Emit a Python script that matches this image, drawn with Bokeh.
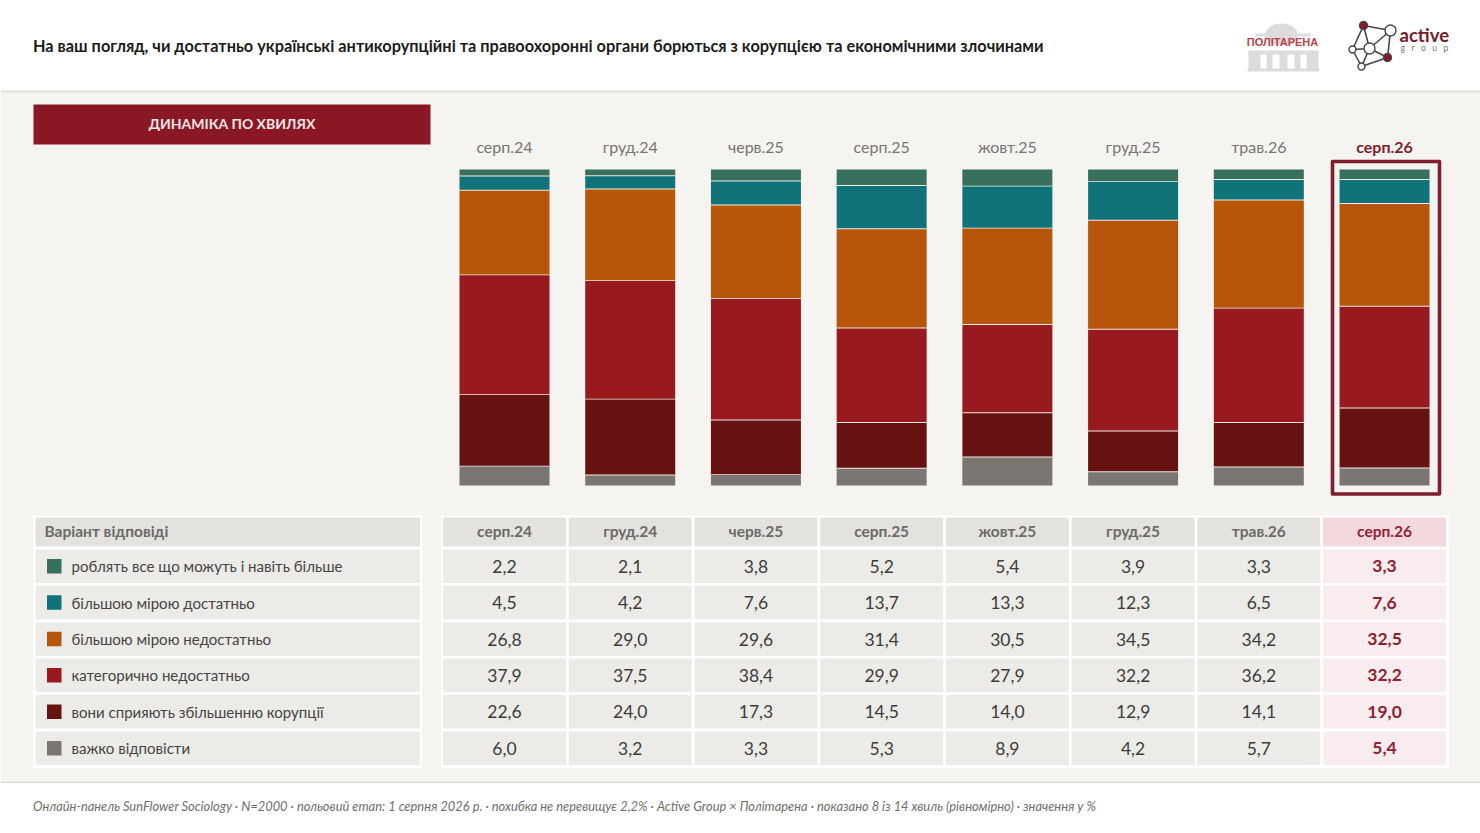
from bokeh.plotting import figure
from bokeh.models import Range1d, ColumnDataSource
from bokeh.core.properties import value
from bokeh.embed import file_html
from bokeh.resources import INLINE

TITLE = "На ваш погляд, чи достатньо українські антикорупційні та правоохоронні органи борються з корупцією та економічними злочинами"
BANNER = "ДИНАМІКА ПО ХВИЛЯХ"
HEAD = "Варіант відповіді"
FOOT = "Онлайн-панель SunFlower Sociology · N=2000 · польовий етап: 1 серпня 2026 р. · похибка не перевищує 2,2% · Active Group × Політарена · показано 8 із 14 хвиль (рівномірно) · значення у %"

waves = ["серп.24", "груд.24", "черв.25", "серп.25", "жовт.25", "груд.25", "трав.26", "серп.26"]
answers = ["роблять все що можуть і навіть більше", "більшою мірою достатньо", "більшою мірою недостатньо",
           "категорично недостатньо", "вони сприяють збільшенню корупції", "важко відповісти"]
colors = ["#37705c", "#0f7379", "#b5560a", "#981a1e", "#661210", "#7b7672"]
s_do_all = [2.2, 2.1, 3.8, 5.2, 5.4, 3.9, 3.3, 3.3]
s_enough = [4.5, 4.2, 7.6, 13.7, 13.3, 12.3, 6.5, 7.6]
s_not_enough = [26.8, 29.0, 29.6, 31.4, 30.5, 34.5, 34.2, 32.5]
s_cat_not = [37.9, 37.5, 38.4, 29.9, 27.9, 32.2, 36.2, 32.2]
s_promote = [22.6, 24.0, 17.3, 14.5, 14.0, 12.9, 14.1, 19.0]
s_hard = [6.0, 3.2, 3.3, 5.3, 8.9, 4.2, 5.7, 5.4]
series = [s_do_all, s_enough, s_not_enough, s_cat_not, s_promote, s_hard]

W, H = 1480, 833
X0, X1, Y0, Y1 = 0, 1480, 0, 833
BAR_BASE, PX_PER_PCT = 485, 3.16
COL0, COL_STEP = 504, 125.72
TEXT_DY = -1.6
LATO = value("Lato")

p = figure(width=W, height=H, output_backend="svg", toolbar_location=None,
           x_range=Range1d(X0, X1), y_range=Range1d(Y1, Y0), x_axis_type=None, y_axis_type=None,
           min_border=0, outline_line_color=None, background_fill_color="white", border_fill_color="white")
p.grid.visible = False
p.extra_x_ranges["wave"] = Range1d((X0 - COL0) / COL_STEP, (X1 - COL0) / COL_STEP)
p.extra_y_ranges["pct"] = Range1d((BAR_BASE - Y1) / PX_PER_PCT, (BAR_BASE - Y0) / PX_PER_PCT)


def box(x0, x1, y0, y1, fill, **kw):
    p.quad(left=[x0], right=[x1], top=[y0], bottom=[y1], fill_color=fill, line_color=None, **kw)


def label(x, y, s, size, color, align="left", style="normal", font=LATO, **kw):
    p.text(x=[x], y=[y + TEXT_DY], text=[s], text_font=font, text_font_size=f"{size}px", text_color=color,
           text_align=align, text_baseline="middle", text_font_style=style, **kw)


# page bands
box(X0, X1, 91, 782, "#f5f4f1")
box(X0, X1, 90, 92, "#e2e1da")
box(X0, X1, 781, 782.5, "#dcdbd6")
label(32.5, 46.5, TITLE, 16.32, "#1c1c1c", style="bold")
box(33, 430, 104, 144, "#8a1824")
label(231.5, 124.5, BANNER, 14, "#f5e4e4", align="center", style="bold")
label(32.5, 807, FOOT, 12.87, "#6f6e6a", style="italic")

# stacked bars
idx = list(range(len(waves)))
remaining = [100.0] * len(waves)
half_bar = 45 / COL_STEP
for vals, col in zip(series, colors):
    tops = list(remaining)
    remaining = [round(t - v, 4) for t, v in zip(tops, vals)]
    src = ColumnDataSource(dict(x=idx, top=tops, bottom=remaining))
    p.vbar(x="x", width=2 * half_bar, top="top", bottom="bottom", source=src, fill_color=col,
           line_color=None, x_range_name="wave", y_range_name="pct")
    if remaining[0] > 0.01:
        sep = ColumnDataSource(dict(y=remaining, left=[i - half_bar for i in idx], right=[i + half_bar for i in idx]))
        p.hbar(y="y", left="left", right="right", height=1.8 / PX_PER_PCT, source=sep,
               fill_color="#f3ece8", line_color=None, x_range_name="wave", y_range_name="pct")

# wave labels above bars
for i, w in enumerate(waves):
    last = i == len(waves) - 1
    label(i, 148, w, 16, "#7e1f2d" if last else "#77756f", align="center", style="bold" if last else "normal",
          x_range_name="wave")

# highlight frame
p.quad(left=[1332], right=[1439], top=[161], bottom=[493.5], fill_color=None, line_color="#7e1f2d",
       line_width=3.6, line_join="round")

# table
box(33, 421.5, 515, 767.5, "white")
box(441, 1448.5, 515, 767.5, "white")
row_tops = [549, 585.3, 621.8, 658, 694.5, 731]
row_h = 33.6
box(35, 419.5, 517, 546, "#e3e2de")
label(44, 532, HEAD, 15.5, "#6b6a66", style="bold")
for r, (ans, col, y) in enumerate(zip(answers, colors, row_tops)):
    box(35, 419.5, y, y + row_h, "#ecebe8")
    box(46.5, 61, y + 9.5, y + 24, col)
    label(71, y + 18.4, ans, 15.05, "#454543")
half = 61.5 / COL_STEP
for i, w in enumerate(waves):
    last = i == len(waves) - 1
    p.quad(left=[i - half], right=[i + half], top=[517], bottom=[546], fill_color="#f4d8dc" if last else "#e3e2de",
           line_color=None, x_range_name="wave")
    label(i, 532, w, 15.5, "#8f2232" if last else "#6b6a66", align="center", style="bold", x_range_name="wave")
    for vals, y in zip(series, row_tops):
        p.quad(left=[i - half], right=[i + half], top=[y], bottom=[y + row_h], fill_color="#f8ecee" if last else "#ecebe8",
               line_color=None, x_range_name="wave")
        label(i, y + 18.4, f"{vals[i]:.1f}".replace(".", ","), 17.5, "#8f2232" if last else "#3c3c3a", align="center",
              style="bold" if last else "normal", x_range_name="wave")

# logo: Політарена
G = "#dcdcda"
p.ellipse(x=[1281], y=[34], width=[32], height=[22], fill_color=G, line_color=None)
box(1255, 1310, 33, 36, G)
box(1248, 1318, 50, 54, G)
for a, b in [(1248, 1260), (1266, 1272), (1279, 1287), (1294, 1300), (1306, 1318)]:
    box(a, b, 52, 69, G)
box(1247, 1319, 68, 71, G)
label(1282, 43.5, "ПОЛІТАРЕНА", 11, "#b8434a", align="center", style="bold", font=value("Liberation Sans"))

# logo: active group
nodes = [(1363, 25, 4, "#8a1824"), (1390, 30, 5.5, "white"), (1352, 49, 3.5, "white"),
         (1369, 48, 5.5, "white"), (1387, 57, 4, "#8a1824"), (1361, 66, 3.5, "white")]
edges = [(0, 1), (0, 2), (0, 3), (1, 3), (1, 4), (2, 3), (2, 5), (3, 5), (3, 4), (4, 5)]
p.multi_line(xs=[[nodes[a][0], nodes[b][0]] for a, b in edges], ys=[[nodes[a][1], nodes[b][1]] for a, b in edges],
             line_color="#474747", line_width=1.6)
p.circle(x=[n[0] for n in nodes], y=[n[1] for n in nodes], radius=[n[2] for n in nodes],
         fill_color=[n[3] for n in nodes], line_color="#474747", line_width=1.4)
label(1399, 36, "active", 18.5, "#73202c", style="bold")
label(1400, 49, "g\u00a0\u00a0\u00a0r\u00a0\u00a0\u00a0o\u00a0\u00a0\u00a0u\u00a0\u00a0\u00a0p", 8.5, "#777777")

open("out.html", "w").write(file_html(p, INLINE))
